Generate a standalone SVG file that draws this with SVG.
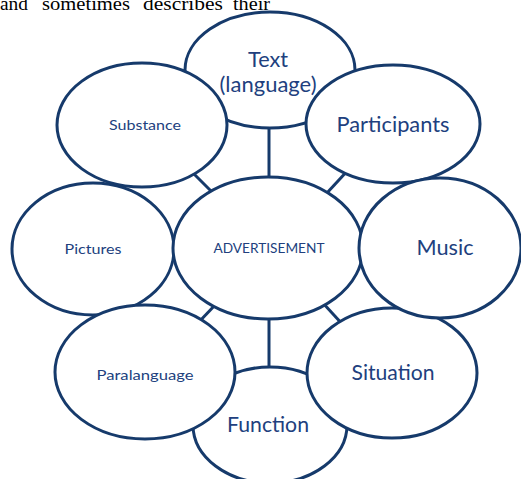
<svg xmlns="http://www.w3.org/2000/svg" width="521" height="479" viewBox="0 0 521 479">
<style>
.e{fill:#fff;stroke:#163a6b;stroke-width:3}
.c{stroke:#163a6b;stroke-width:3;fill:none}
.t{font-family:Lato,"Liberation Sans",sans-serif;fill:#213f7e;text-anchor:middle}
.big{font-size:21px}
.mid{font-size:15.5px}
.sm{font-size:14px}
.top{font-family:"Liberation Serif",serif;font-size:19.5px;fill:#000}
</style>
<rect width="521" height="479" fill="#fff"/>
<g id="caption">
<text class="top" x="0" y="10" textLength="28" lengthAdjust="spacingAndGlyphs">and</text>
<text class="top" x="42" y="10" textLength="88" lengthAdjust="spacingAndGlyphs">sometimes</text>
<text class="top" x="143" y="10" textLength="80" lengthAdjust="spacingAndGlyphs">describes</text>
<text class="top" x="233" y="10" textLength="37" lengthAdjust="spacingAndGlyphs">their</text>
</g>
<g id="connectors">
<line class="c" x1="269" y1="120" x2="269" y2="185"/>
<line class="c" x1="188" y1="168" x2="214" y2="194"/>
<line class="c" x1="350" y1="168" x2="326" y2="194"/>
<line class="c" x1="196" y1="325" x2="218" y2="302"/>
<line class="c" x1="322" y1="302" x2="344" y2="326"/>
<line class="c" x1="269" y1="312" x2="269" y2="375"/>
</g>
<g id="text-node">
<ellipse class="e" cx="270" cy="70" rx="85" ry="58"/>
<text class="t big" x="268" y="67" textLength="40" lengthAdjust="spacingAndGlyphs">Text</text>
<text class="t big" x="268" y="92" textLength="97" lengthAdjust="spacingAndGlyphs">(language)</text>
</g>
<g id="function">
<ellipse class="e" cx="270" cy="425" rx="77" ry="58"/>
<text class="t big" x="268" y="432" textLength="82" lengthAdjust="spacingAndGlyphs">Function</text>
</g>
<g id="pictures">
<ellipse class="e" cx="93" cy="249" rx="81" ry="66"/>
<text class="t sm" x="93" y="254" textLength="57" lengthAdjust="spacingAndGlyphs">Pictures</text>
</g>
<g id="advertisement">
<ellipse class="e" cx="268" cy="248" rx="95" ry="71"/>
<text class="t sm" x="269" y="253" textLength="111" lengthAdjust="spacingAndGlyphs">ADVERTISEMENT</text>
</g>
<g id="substance">
<ellipse class="e" cx="142" cy="125" rx="85" ry="62"/>
<text class="t sm" x="145" y="130" textLength="72" lengthAdjust="spacingAndGlyphs">Substance</text>
</g>
<g id="participants">
<ellipse class="e" cx="393" cy="124" rx="87" ry="59"/>
<text class="t big" x="393" y="132" textLength="113" lengthAdjust="spacingAndGlyphs">Participants</text>
</g>
<g id="paralanguage">
<ellipse class="e" cx="145" cy="372" rx="90" ry="67"/>
<text class="t sm" x="145" y="380" textLength="97" lengthAdjust="spacingAndGlyphs">Paralanguage</text>
</g>
<g id="situation">
<ellipse class="e" cx="392" cy="373" rx="85" ry="65"/>
<text class="t big" x="393" y="380" textLength="83" lengthAdjust="spacingAndGlyphs">Situation</text>
</g>
<g id="music">
<ellipse class="e" cx="440" cy="248" rx="81" ry="70"/>
<text class="t big" x="445" y="255" textLength="57" lengthAdjust="spacingAndGlyphs">Music</text>
</g>
</svg>
